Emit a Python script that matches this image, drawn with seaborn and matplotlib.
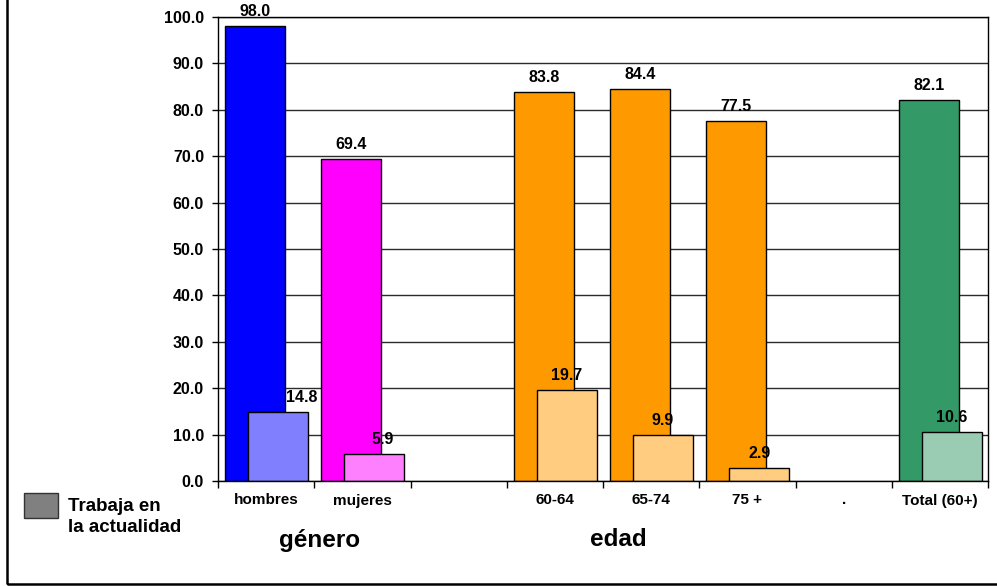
import matplotlib.pyplot as plt
import numpy as np
import pandas as pd
import seaborn as sns
from matplotlib.patches import Rectangle

# --- data ------------------------------------------------------------------
categories = ["hombres", "mujeres", "", "60-64", "65-74", "75 +", ".", "Total (60+)"]
trabajo_alguna_vez = [98.0, 69.4, None, 83.8, 84.4, 77.5, None, 82.1]
trabaja_actualidad = [14.8, 5.9, None, 19.7, 9.9, 2.9, None, 10.6]
y_ticks = [0, 10, 20, 30, 40, 50, 60, 70, 80, 90, 100]
group_labels = ["género", "edad"]
legend_label = "Trabaja en\nla actualidad"

# --- styling ---------------------------------------------------------------
main_palette = {"hombres": "#0000FF", "mujeres": "#FF00FF", "60-64": "#FF9900",
                "65-74": "#FF9900", "75 +": "#FF9900", "Total (60+)": "#339966"}
light_palette = {"hombres": "#8080FF", "mujeres": "#FF80FF", "60-64": "#FFCC80",
                 "65-74": "#FFCC80", "75 +": "#FFCC80", "Total (60+)": "#99CCB3"}
TALL_SHIFT, SMALL_SHIFT, BAR_W = -0.115, 0.124, 0.625
label_nudge_pt = {"hombres": 17, "mujeres": 6}

sns.set_theme(style="white")
plt.rcParams["font.family"] = ["Liberation Sans", "DejaVu Sans"]
plt.rcParams["font.weight"] = "bold"
for key in ("text.color", "axes.labelcolor", "xtick.color", "ytick.color"):
    plt.rcParams[key] = "black"


def _frame(values, shift):
    rows = [(i + shift, v, c) for i, (c, v) in enumerate(zip(categories, values)) if v is not None]
    return pd.DataFrame(rows, columns=["pos", "value", "cat"])


df_tall = _frame(trabajo_alguna_vez, TALL_SHIFT)
df_small = _frame(trabaja_actualidad, SMALL_SHIFT)
hue_order = list(df_tall["cat"])

fig = plt.figure(figsize=(9.97, 5.86), dpi=100)
ax = fig.add_axes([218 / 997, 1 - 481 / 586, (988 - 218) / 997, (481 - 17) / 586])

for df, pal in ((df_tall, main_palette), (df_small, light_palette)):
    n_before = len(ax.containers)
    sns.barplot(data=df, x="pos", y="value", hue="cat", hue_order=hue_order, palette=pal,
                native_scale=True, dodge=False, width=BAR_W, edgecolor="black", linewidth=1,
                legend=False, errorbar=None, ax=ax, saturation=1)
    for cont, cat in zip(ax.containers[n_before:], hue_order):
        nudge = label_nudge_pt.get(cat, 0) if pal is light_palette else 0
        for t in ax.bar_label(cont, fmt="%.1f", padding=5, fontsize=11.5, fontweight="bold",
                              color="black"):
            t.xyann = (t.xyann[0] + nudge, t.xyann[1])

ax.set_xlim(-0.5, len(categories) - 0.5)
ax.set_ylim(0, 100)
ax.set_xticks(np.arange(-0.5, len(categories), 1))
ax.set_xticklabels([])
ax.set_xticks(np.arange(len(categories)), minor=True)
ax.set_xticklabels(categories, minor=True, fontsize=11, fontweight="bold")
ax.tick_params(axis="x", which="major", length=5, width=1, direction="out", bottom=True, color="black")
ax.tick_params(axis="x", which="minor", length=0, pad=9)
ax.set_yticks(y_ticks)
ax.set_yticklabels([f"{v:.1f}" for v in y_ticks], fontsize=11.5, fontweight="bold")
ax.tick_params(axis="y", length=4, width=1, direction="out", left=True, pad=6, color="black")
ax.set_xlabel("")
ax.set_ylabel("")
ax.yaxis.grid(True, color="#2b2b2b", linewidth=1)
ax.xaxis.grid(False)
ax.set_axisbelow(True)
for s in ax.spines.values():
    s.set_visible(True)
    s.set_color("black")
    s.set_linewidth(1)

# group captions under the axis
fig.text(320 / 997, 1 - 540 / 586, group_labels[0], ha="center", va="center", fontsize=17.5, fontweight="bold")
fig.text(618 / 997, 1 - 540 / 586, group_labels[1], ha="center", va="center", fontsize=17.5, fontweight="bold")

# legend drawn by hand at the lower left
fig.patches.append(Rectangle((24 / 997, 1 - 518 / 586), 34 / 997, 25 / 586, transform=fig.transFigure,
                             facecolor="#808080", edgecolor="#333333", linewidth=1))
fig.text(68 / 997, 1 - 517 / 586, legend_label, ha="left", va="center", fontsize=13.5,
         fontweight="bold", linespacing=1.3)

# outer frame (left and bottom edges visible)
fig.patches.append(Rectangle((7 / 997, 2 / 586), 1.0, 1.0, transform=fig.transFigure,
                             fill=False, edgecolor="black", linewidth=1.8, clip_on=False))

fig.savefig("out.png", dpi=100)
